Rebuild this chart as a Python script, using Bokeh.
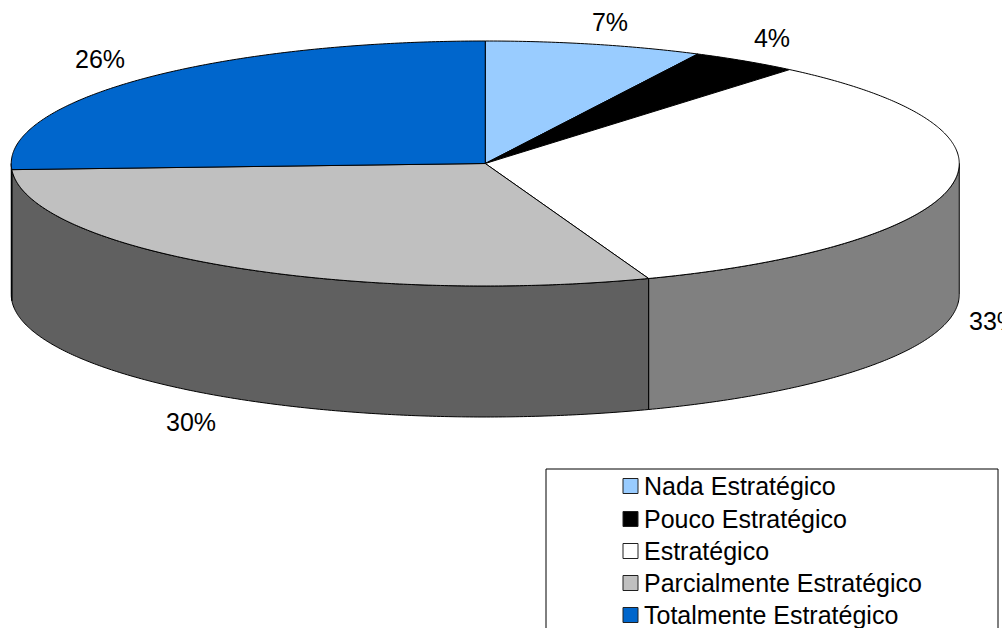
import math
from bokeh.plotting import figure
from bokeh.embed import file_html
from bokeh.resources import INLINE
from bokeh.core.properties import value

categories = ["Nada Estratégico", "Pouco Estratégico", "Estratégico", "Parcialmente Estratégico", "Totalmente Estratégico"]
shares = [7.4, 3.7, 33.3, 29.8, 25.8]
labels = ["7%", "4%", "33%", "30%", "26%"]
top_colors = ["#99CCFF", "#000000", "#FFFFFF", "#C0C0C0", "#0066CC"]
wall_colors = ["#4D6680", "#000000", "#808080", "#606060", "#003366"]
label_x = [609.5, 771.5, 968.5, 190.5, 99.5]
label_y = [21, 37, 320, 421, 58]
label_align = ["center", "center", "left", "center", "center"]

CX, CY, RX, RY, DEPTH = 484.75, 163, 474, 122.5, 131
FONT = value("Liberation Sans")
SIZE = "25px"

p = figure(width=1002, height=628, x_range=(0, 1002), y_range=(628, 0),
           x_axis_type=None, y_axis_type=None, toolbar_location=None,
           output_backend="svg", min_border=0, outline_line_color=None,
           background_fill_color="white", border_fill_color="white")
p.grid.visible = False


def pt(t, dy=0.0):
    r = math.radians(t)
    return CX + RX * math.sin(r), CY - RY * math.cos(r) + dy


def arc(a, b, dy=0.0):
    n = max(2, int(abs(b - a) * 2) + 1)
    return [pt(a + (b - a) * i / (n - 1), dy) for i in range(n)]


total = sum(shares)
edges = [0.0]
for s in shares:
    edges.append(edges[-1] + 360.0 * s / total)

# side wall: only the front half of the rim (90..270 degrees) is visible
for i, col in enumerate(wall_colors):
    a, b = max(edges[i], 90.0), min(edges[i + 1], 270.0)
    if b <= a:
        continue
    outline = arc(a, b) + arc(b, a, DEPTH)
    p.patch([q[0] for q in outline], [q[1] for q in outline],
            fill_color=col, line_color="black", line_width=1)

# top face, every slice outlined in black
for i, col in enumerate(top_colors):
    outline = [(CX, CY)] + arc(edges[i], edges[i + 1])
    p.patch([q[0] for q in outline], [q[1] for q in outline],
            fill_color=col, line_color="black", line_width=1)

# percentage labels
for i, lab in enumerate(labels):
    p.text([label_x[i]], [label_y[i]], text=[lab], text_font=FONT, text_font_size=SIZE,
           text_color="black", text_align=label_align[i], text_baseline="middle")

# legend
p.quad(left=[545.5], right=[997.5], top=[468.5], bottom=[660],
       fill_color="white", line_color="black", line_width=1)
row_y = [485, 518, 550, 582, 614]
for i, name in enumerate(categories):
    p.rect([630], [row_y[i] + 0.5], width=15, height=15, fill_color=top_colors[i],
           line_color="#202020", line_width=1)
    p.text([643.5], [row_y[i]], text=[name], text_font=FONT, text_font_size=SIZE,
           text_color="black", text_align="left", text_baseline="middle")

open("out.html", "w").write(file_html(p, INLINE))
